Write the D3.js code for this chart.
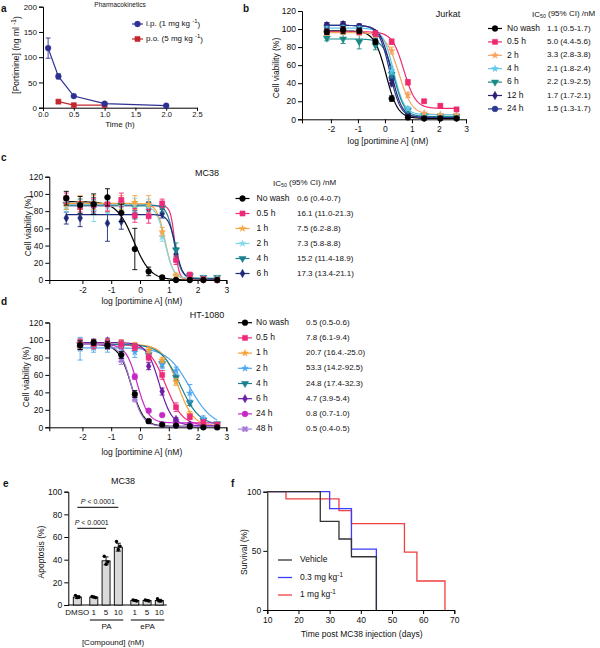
<!DOCTYPE html>
<html><head><meta charset="utf-8">
<script src="https://cdn.jsdelivr.net/npm/d3@7"></script>
<style>body{margin:0;background:#fff}</style>
</head><body>
<script>
// ================= DATA =================
// a — pharmacokinetics
const pkTimeIP = [0.083, 0.25, 0.5, 1, 2];
const pkConcIP = [118, 62, 23, 8, 4];
const pkErrIP  = [20, 5, 2, 2, 1];
const pkTimePO = [0.25, 0.5, 1];
const pkConcPO = [12, 5, 5];
const pkErrPO  = [1, 1, 1];
const pkLegend = ["i.p. (1 mg kg", "p.o. (5 mg kg"];
const pkXTicks = [0, 0.5, 1, 1.5, 2, 2.5];
const pkYTicks = [0, 50, 100, 150, 200];

// b — Jurkat
const jkSeries = ["No wash","0.5 h","2 h","4 h","6 h","12 h","24 h"];
const jkIC50   = ["1.1 (0.5-1.7)","5.0 (4.4-5.6)","3.3 (2.8-3.8)","2.1 (1.8-2.4)","2.2 (1.9-2.5)","1.7 (1.7-2.1)","1.5 (1.3-1.7)"];
const jkDose   = [-2.15,-1.55,-0.95,-0.35,0.25,0.85,1.45,2.05,2.65];
const jkViab = [
  [97,99,98,86,23,2,1,1,1],
  [97,99,97,95,86,41,20,15,11],
  [96,97,96,94,76,27,7,5,5],
  [100,101,100,92,54,12,5,5,5],
  [90,89,86,82,50,10,4,3,3],
  [104,105,102,95,40,6,2,2,2],
  [104,105,103,94,46,5,2,2,2]
];
const jkErr = [
  [3,4,3,3,3,1,1,1,1],
  [3,3,3,3,3,3,2,2,2],
  [3,3,3,3,4,3,1,1,1],
  [3,3,3,3,4,2,1,1,1],
  [3,5,8,5,4,2,1,1,1],
  [3,3,3,3,3,1,1,1,1],
  [3,3,3,3,3,1,1,1,1]
];
const jkTop    = [98,97,96,101,89,104,104];
const jkBottom = [1,12,5,5,3,2,2];
const jkHill   = [2,2,1.8,2.2,2.2,2.2,2.2];

// c — MC38
const mcSeries = ["No wash","0.5 h","1 h","2 h","4 h","6 h"];
const mcIC50   = ["0.6 (0.4-0.7)","16.1 (11.0-21.3)","7.5 (6.2-8.8)","7.3 (5.8-8.8)","15.2 (11.4-18.9)","17.3 (13.4-21.1)"];
const mcDose   = [-2.56,-2.08,-1.61,-1.13,-0.65,-0.18,0.30,0.77,1.25,1.73,2.20,2.68];
const mcViab = [
  [95,87,88,96,78,36,10,3,0,0,0,0],
  [95,85,87,88,93,75,74,89,23,6,1,0],
  [88,90,90,88,90,90,88,56,5,2,1,1],
  [85,85,80,85,86,87,86,50,4,3,2,2],
  [88,88,88,87,87,85,85,84,35,5,3,3],
  [72,72,85,66,68,76,82,77,30,3,1,1]
];
const mcErr = [
  [8,10,12,10,10,24,5,2,1,1,1,1],
  [6,6,8,8,8,8,8,5,5,3,1,1],
  [6,8,8,8,8,8,10,5,3,1,1,1],
  [6,8,12,8,8,8,8,5,3,1,1,1],
  [6,6,8,8,8,6,6,5,8,3,1,1],
  [7,10,8,21,9,5,8,5,7,2,1,1]
];
const mcTop    = [91,86,89,86,87,76];
const mcBottom = [0,1,1,2,2,1];
const mcHill   = [1.5,6,3,3,3.5,3.5];

// d — HT-1080
const htSeries = ["No wash","0.5 h","1 h","2 h","4 h","6 h","24 h","48 h"];
const htIC50   = ["0.5 (0.5-0.6)","7.8 (6.1-9.4)","20.7 (16.4.-25.0)","53.3 (14.2-92.5)","24.8 (17.4-32.3)","4.7 (3.9-5.4)","0.8 (0.7-1.0)","0.5 (0.4-0.5)"];
const htDose   = [-2.08,-1.61,-1.13,-0.65,-0.18,0.30,0.77,1.25,1.73,2.20,2.68];
const htViab = [
  [94,97,94,83,38,7,3,2,1,0,0],
  [95,95,95,95,92,80,60,23,12,6,3],
  [95,95,96,96,93,88,77,52,15,4,2],
  [90,91,92,92,86,85,72,65,39,10,3],
  [95,95,95,95,92,83,73,57,28,8,4],
  [96,97,99,95,92,70,41,9,3,2,2],
  [94,96,95,94,58,19,14,7,3,2,2],
  [94,95,94,77,33,7,3,2,1,1,0]
];
const htErr = [
  [5,3,4,4,4,2,1,1,1,1,1],
  [6,5,5,5,4,4,5,5,3,2,1],
  [5,5,5,4,4,3,3,4,3,1,1],
  [13,5,6,5,6,4,5,4,10,3,1],
  [5,5,5,4,4,3,4,3,3,2,1],
  [5,4,3,4,3,4,4,2,1,1,1],
  [5,4,4,4,3,2,1,1,1,1,1],
  [5,4,4,5,4,1,1,1,1,1,1]
];
const htTop    = [95,95,95,91,95,97,95,95];
const htBottom = [1,2,1,1,2,2,5,1];
const htHill   = [2,1.5,1.6,1.1,1.3,2,2.2,2.2];

const logTicks = [-2,-1,0,1,2,3];
const viabTicks = [0,20,40,60,80,100,120];

// e — apoptosis
const apKeys   = ["DMSO","1","5","10","1","5","10"];
const apGroup  = ["DMSO","PA","PA","PA","ePA","ePA","ePA"];
const apMean   = [7,7,39,51,4,4,4];
const apSD     = [1.2,0.6,3.5,3.5,0.5,0.5,1];
const apPoints = [[8.5,7,6.5],[7.5,6.5,7],[43,38,36],[56,52,49],[4.5,3.5,4],[4.5,3.5,4],[5.5,3.5,3.5]];
const apYTicks = [0,20,40,60,80,100];

// f — survival
const survLegend = ["Vehicle","0.3 mg kg","1 mg kg"];
const vehTime = [10,27,33,37,45];
const vehSurv = [100,75,60,45,0];
const lowTime = [10,30,37,45];
const lowSurv = [100,85.7,51.4,0];
const highTime = [10,16,33,37,54,58,67];
const highSurv = [100,94,84,73,49,24.5,0];
const survXTicks = [10,20,30,40,50,60,70];
const survYTicks = [0,50,100];

// ================= DRAWING =================
const FONT = "'Liberation Sans', Arial, Helvetica, sans-serif";
const svg = d3.select("body").append("svg").attr("width",600).attr("height",648)
  .style("font-family",FONT);

function styleAxis(g, fs){
  g.attr("font-family",FONT).attr("font-size",fs||8.5);
  g.select(".domain").attr("stroke","#000").attr("stroke-width",1);
  g.selectAll(".tick line").attr("stroke","#000");
  g.selectAll(".tick text").attr("fill","#111");
}
function text(x,y,s,opts={}){
  const t = svg.append("text").attr("x",x).attr("y",y).text(s)
    .attr("font-size",opts.fs||8.5).attr("fill","#111")
    .attr("text-anchor",opts.anchor||"start").attr("dominant-baseline","middle");
  if (opts.bold) t.attr("font-weight","bold");
  if (opts.rotate) t.attr("transform",`rotate(-90,${x},${y})`);
  return t;
}
function sup(t, s){ t.append("tspan").attr("font-size","0.75em").attr("dy","-0.45em").text(s); return t; }
function letter(x,y,s){ text(x,y,s,{fs:10,bold:true}); }

const symTypes = {circle:d3.symbolCircle, square:d3.symbolSquare, star:d3.symbolStar,
  triDown:d3.symbolTriangle, diamond:d3.symbolDiamond, x:d3.symbolCross};
const symSize = {circle:26, square:26, star:14, triDown:22, diamond:20, x:22};
function marker(g, shape, cx, cy, color){
  const rot = shape==="triDown"?180:(shape==="x"?45:0);
  g.append("path").attr("d", d3.symbol(symTypes[shape], symSize[shape])())
    .attr("transform",`translate(${cx},${cy}) rotate(${rot})`)
    .attr("fill",color).attr("stroke",color).attr("stroke-width",0.5);
}
function errBar(g, x, y1, y2, color){
  g.append("line").attr("x1",x).attr("x2",x).attr("y1",y1).attr("y2",y2).attr("stroke",color).attr("stroke-width",0.9);
  [y1,y2].forEach(yy=>g.append("line").attr("x1",x-2.5).attr("x2",x+2.5).attr("y1",yy).attr("y2",yy).attr("stroke",color).attr("stroke-width",0.9));
}

// ---------- panel a ----------
letter(1,9,"a");
{
  const x = d3.scaleLinear().domain([0,2.5]).range([43,197]);
  const y = d3.scaleLinear().domain([0,200]).range([107.7,6.7]);
  styleAxis(svg.append("g").attr("transform","translate(0,107.7)")
    .call(d3.axisBottom(x).tickValues(pkXTicks).tickFormat(d3.format(".1f")).tickSize(3).tickPadding(1)), 7.5);
  styleAxis(svg.append("g").attr("transform","translate(43,0)")
    .call(d3.axisLeft(y).tickValues(pkYTicks).tickSize(4).tickPadding(2)), 8);
  const g = svg.append("g");
  const line = d3.line().x(d=>x(d[0])).y(d=>y(d[1]));
  const sets = [[pkTimeIP,pkConcIP,pkErrIP,"#2e3192","circle"],[pkTimePO,pkConcPO,pkErrPO,"#c1272d","square"]];
  sets.reverse().forEach(([t,c,e,col,sh])=>{
    g.append("path").datum(t.map((d,i)=>[d,c[i]])).attr("d",line).attr("fill","none").attr("stroke",col).attr("stroke-width",1.2);
    t.forEach((d,i)=>{ if(e[i]>2) errBar(g,x(d),y(c[i]-e[i]),y(c[i]+e[i]),col); marker(g,sh,x(d),y(c[i]),col); });
  });
  text(120,5,"Pharmacokinetics",{fs:6.5,anchor:"middle"});
  const lg = svg.append("g");
  [["#2e3192","circle"],["#c1272d","square"]].forEach(([col,sh],i)=>{
    const yy = 24 + i*15;
    lg.append("line").attr("x1",132).attr("x2",143).attr("y1",yy).attr("y2",yy).attr("stroke",col).attr("stroke-width",1.2);
    marker(lg,sh,137.5,yy,col);
    const t = text(146,yy,pkLegend[i]+" ",{fs:8});
    sup(t,"-1"); t.append("tspan").attr("dy","0.45em").text(")");
  });
  text(120,125,"Time (h)",{anchor:"middle",fs:8});
  const yl = text(17,55,"[Portimine] (ng ml ",{anchor:"middle",fs:8.5,rotate:true});
  sup(yl,"-1"); yl.append("tspan").attr("dy","0.45em").text(")");
}

// ---------- dose-response helper ----------
function drawDR(c){
  const x = d3.scaleLinear().domain(c.xDomain).range(c.xRange);
  const y = d3.scaleLinear().domain([0,120]).range(c.yRange);
  styleAxis(svg.append("g").attr("transform",`translate(0,${c.yRange[0]})`)
    .call(d3.axisBottom(x).tickValues(logTicks).tickFormat(d=>String(d)).tickSize(4).tickPadding(3)));
  styleAxis(svg.append("g").attr("transform",`translate(${c.xRange[0]},0)`)
    .call(d3.axisLeft(y).tickValues(viabTicks).tickSize(4).tickPadding(2)));
  const g = svg.append("g");
  c.viab.forEach((v,i)=>{
    const L = Math.log10(parseFloat(c.ic50[i]));
    const xs = d3.range(c.dose[0], c.dose[c.dose.length-1]+0.001, 0.02);
    const f = d=> c.bottom[i] + (c.top[i]-c.bottom[i])/(1+Math.pow(10,(d-L)*c.hill[i]));
    g.append("path").datum(xs).attr("d",d3.line().x(d=>x(d)).y(d=>y(f(d))))
      .attr("fill","none").attr("stroke",c.colors[i]).attr("stroke-width",1.2);
  });
  for (let i=c.viab.length-1;i>=0;i--){
    c.dose.forEach((d,j)=>{
      const v=c.viab[i][j], e=c.err[i][j];
      if (e>1.5) errBar(g,x(d),y(Math.max(0,v-e)),y(v+e),c.colors[i]);
    });
    c.dose.forEach((d,j)=> marker(g,c.shapes[i],x(d),y(c.viab[i][j]),c.colors[i]));
  }
  text((c.xRange[0]+c.xRange[1])/2+4, c.xLabelY, "log [portimine A] (nM)",{anchor:"middle"});
  text(c.yLabelX, c.yLabelY, "Cell viability (%)",{anchor:"middle",rotate:true});
  text(c.titleX, c.titleY, c.title,{anchor:"middle",fs:9});
  const lg = svg.append("g");
  if (c.headerY!==undefined){
    const h = text(c.headerX, c.headerY, "IC",{fs:8});
    h.append("tspan").attr("font-size","0.65em").attr("dy","0.3em").text("50");
    h.append("tspan").attr("dy","-0.3em").text(" (95% CI) /nM");
  }
  c.series.forEach((s,i)=>{
    const yy = c.legY0 + i*c.legDy;
    lg.append("line").attr("x1",c.legMX-7).attr("x2",c.legMX+7).attr("y1",yy).attr("y2",yy).attr("stroke",c.colors[i]).attr("stroke-width",1.2);
    marker(lg,c.shapes[i],c.legMX,yy,c.colors[i]);
    text(c.legTX,yy,s,{fs:8.5});
    text(c.legVX,yy,c.ic50[i],{fs:8});
  });
}

// ---------- panel b ----------
letter(243,9,"b");
drawDR({
  xDomain:[-3.07,3], xRange:[302,466], yRange:[119.3,11],
  dose:jkDose, viab:jkViab, err:jkErr, ic50:jkIC50, top:jkTop, bottom:jkBottom, hill:jkHill,
  colors:["#000000","#ee2a6e","#f7a25c","#5cc8ea","#1a8a87","#2e1f73","#2b3990"],
  shapes:["circle","square","star","star","triDown","diamond","circle"],
  series:jkSeries, xLabelY:141.5, yLabelX:277, yLabelY:68, title:"Jurkat", titleX:448, titleY:15,
  headerX:532, headerY:15, legY0:28.5, legDy:13.4, legMX:495, legTX:507, legVX:547
});

// ---------- panel c ----------
letter(1,158,"c");
drawDR({
  xDomain:[-3.15,3], xRange:[49.3,226.4], yRange:[280,176.7],
  dose:mcDose, viab:mcViab, err:mcErr, ic50:mcIC50, top:mcTop, bottom:mcBottom, hill:mcHill,
  colors:["#000000","#ee2a7b","#f7a541","#7fd7e8","#1b7f8c","#1f2b7a"],
  shapes:["circle","square","star","star","triDown","diamond"],
  series:mcSeries, xLabelY:302, yLabelX:29, yLabelY:226, title:"MC38", titleX:207, titleY:174,
  headerX:273, headerY:184, legY0:198.5, legDy:15, legMX:242.5, legTX:256.5, legVX:297
});

// ---------- panel d ----------
letter(1,302,"d");
drawDR({
  xDomain:[-3.15,3], xRange:[49.3,226.4], yRange:[427.3,322.5],
  dose:htDose, viab:htViab, err:htErr, ic50:htIC50, top:htTop, bottom:htBottom, hill:htHill,
  colors:["#000000","#ee2a7b","#f7a035","#4da6f0","#1a7f8f","#6b1fa3","#c62ac6","#a47ad6"],
  shapes:["circle","square","star","star","triDown","diamond","circle","x"],
  series:htSeries, xLabelY:452.7, yLabelX:27, yLabelY:377, title:"HT-1080", titleX:207, titleY:316,
  legY0:322.7, legDy:15.2, legMX:245, legTX:256, legVX:306
});

// ---------- panel e ----------
letter(3,484,"e");
{
  let slot=0; const slots=[];
  apKeys.forEach((k,i)=>{ if(i>0) slot += (apGroup[i]!==apGroup[i-1]) ? 1.35 : 1; slots.push(slot); });
  const x = d3.scaleLinear().domain([0,slots[slots.length-1]]).range([77.3,159.3]);
  const y = d3.scaleLinear().domain([0,100]).range([605,491.7]);
  styleAxis(svg.append("g").attr("transform","translate(68.3,0)")
    .call(d3.axisLeft(y).tickValues(apYTicks).tickSize(4).tickPadding(2)));
  svg.append("line").attr("x1",68.3).attr("x2",166.7).attr("y1",605).attr("y2",605).attr("stroke","#000");
  const g = svg.append("g");
  const bw = 8;
  apMean.forEach((m,i)=>{
    const cx = x(slots[i]);
    g.append("rect").attr("x",cx-bw/2).attr("y",y(m)).attr("width",bw).attr("height",y(0)-y(m))
      .attr("fill","#d9d9d9").attr("stroke","#000").attr("stroke-width",0.9);
    errBar(g,cx,y(m-apSD[i]),y(m+apSD[i]),"#000");
    const offs=[-1.8,1.8,0];
    apPoints[i].forEach((p,j)=> g.append("circle").attr("cx",cx+offs[j]).attr("cy",y(p)).attr("r",1.7).attr("fill","#000"));
    text(cx,612.7,apKeys[i],{anchor:"middle",fs:8});
  });
  ["PA","ePA"].forEach(gr=>{
    const idx = apGroup.map((d,i)=>d===gr?i:-1).filter(i=>i>=0);
    const x1 = x(slots[idx[0]])-4, x2 = x(slots[idx[idx.length-1]])+5;
    svg.append("line").attr("x1",x1).attr("x2",x2).attr("y1",620).attr("y2",620).attr("stroke","#000");
    text((x1+x2)/2,627,gr,{anchor:"middle",fs:8});
  });
  text(113,643,"[Compound] (nM)",{anchor:"middle",fs:8});
  text(41.7,552,"Apoptosis (%)",{anchor:"middle",rotate:true,fs:8.5});
  text(123,482,"MC38",{anchor:"middle",fs:9});
  [[0,3,507.3,501.5],[0,2,528.3,522.5]].forEach(([a,b,yy,ty])=>{
    svg.append("line").attr("x1",x(slots[a])).attr("x2",x(slots[b])).attr("y1",yy).attr("y2",yy).attr("stroke","#000");
    const t = text((x(slots[a])+x(slots[b]))/2,ty,"",{anchor:"middle",fs:7});
    t.append("tspan").attr("font-style","italic").text("P");
    t.append("tspan").text(" < 0.0001");
  });
}

// ---------- panel f ----------
letter(231,484,"f");
{
  const x = d3.scaleLinear().domain([10,70]).range([267.3,454.3]);
  const y = d3.scaleLinear().domain([0,100]).range([610,491.7]);
  styleAxis(svg.append("g").attr("transform","translate(0,610)")
    .call(d3.axisBottom(x).tickValues(survXTicks).tickSize(4).tickPadding(3)));
  styleAxis(svg.append("g").attr("transform","translate(267.3,0)")
    .call(d3.axisLeft(y).tickValues(survYTicks).tickSize(4).tickPadding(2)));
  const line = d3.line().x(d=>x(d[0])).y(d=>y(d[1])).curve(d3.curveStepAfter);
  const cols = ["#333333","#3d3dff","#f04040"];
  const sets = [[highTime,highSurv,cols[2]],[lowTime,lowSurv,cols[1]],[vehTime,vehSurv,cols[0]]];
  sets.forEach(([t,s,col])=>{
    svg.append("path").datum(t.map((d,i)=>[d,s[i]])).attr("d",line).attr("fill","none")
      .attr("stroke",col).attr("stroke-width",1.3);
  });
  survLegend.forEach((s,i)=>{
    const yy = 560 + i*17.5;
    svg.append("line").attr("x1",278).attr("x2",292).attr("y1",yy).attr("y2",yy).attr("stroke",cols[i]).attr("stroke-width",1.3);
    const t = text(300,yy,s,{fs:8.5});
    if (i>0) sup(t,"-1");
  });
  text(361.7,634.5,"Time post MC38 injection (days)",{anchor:"middle",fs:8.5});
  text(245,552,"Survival (%)",{anchor:"middle",rotate:true,fs:8.5});
}
</script>
</body></html>
